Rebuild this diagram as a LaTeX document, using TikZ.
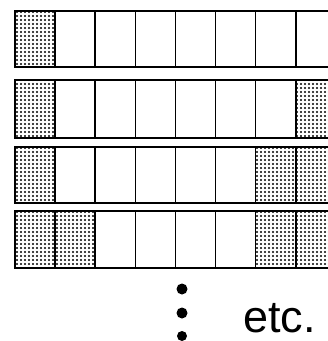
\documentclass[tikz,border=0pt]{standalone}
\usepackage{fontspec}
\setmainfont{Liberation Sans}
\usetikzlibrary{patterns.meta}
\tikzdeclarepattern{name=mydots, type=uncolored,
  bounding box={(0pt,0pt) and (4pt,4pt)}, tile size={(4pt,4pt)},
  code={\fill (2pt,2pt) circle (1.1pt);}}
\tikzset{
  cellline/.style={draw=black,line width=1.6pt},
  shadedcell/.style={pattern=mydots,pattern color=black},
  bigdot/.style={fill=black,draw=none},
  etclabel/.style={inner sep=0pt,anchor=base west,font=\fontsize{45}{47}\selectfont}
}
\begin{document}
\begin{tikzpicture}[x=1pt,y=-1pt]
\useasboundingbox (0,0) rectangle (328,341);
\def\cw{40.1}
\begin{scope}
\clip (0,0) rectangle (328,300);
% shaded cells: row top/bottom/cell index
\foreach \t/\b/\c in {11/67/0, 80/138/0, 80/138/7, 147/203/0, 147/203/6, 147/203/7,
                      211/268/0, 211/268/1, 211/268/6, 211/268/7}
  \fill[shadedcell] (15+\cw*\c,\t) rectangle (15+\cw*\c+\cw,\b);
% grid lines
\foreach \t/\b in {11/67, 80/138, 147/203, 211/268} {
  \foreach \i in {1,...,7}
    \draw[cellline] (15+\cw*\i,\t) -- (15+\cw*\i,\b);
  \draw[cellline] (15,\t) rectangle (15+\cw*8,\b);
}
\end{scope}
% vertical ellipsis
\fill[bigdot] (182,289) circle (5.5);
\fill[bigdot] (182,313) circle (5.5);
\fill[bigdot] (182,336) circle (5);
\node[etclabel] (etc) at (243,332) {etc.};
\end{tikzpicture}
\end{document}
